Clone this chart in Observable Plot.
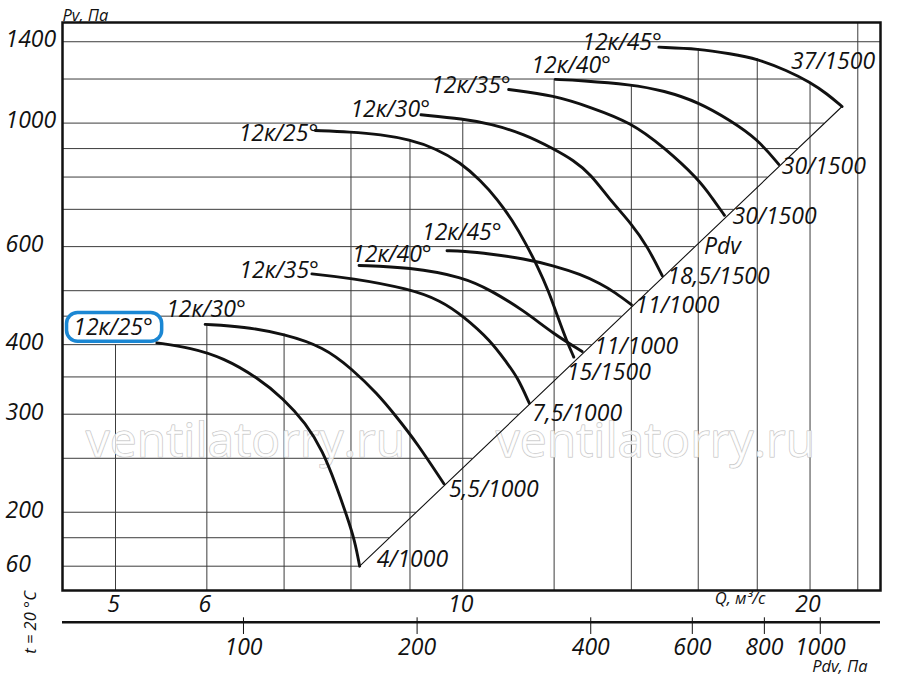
<!DOCTYPE html>
<html>
<head>
<meta charset="utf-8">
<script src="https://cdn.jsdelivr.net/npm/d3@7"></script>
<script src="https://cdn.jsdelivr.net/npm/@observablehq/plot@0.6"></script>
<style>
  html, body { margin: 0; padding: 0; background: #fff; }
  #chart svg { display: block; }
</style>
</head>
<body>
<div id="chart"></div>
<script>
// ---------- axis / grid data ----------
const yTickValues = [1400, 1000, 600, 400, 300, 200, 160];
const yTickLabels = ["1400", "1000", "600", "400", "300", "200", "60"];
const pGrid = [1400, 1200, 1000, 900, 800, 700, 600, 500, 450, 400, 350, 300, 250, 200, 180, 160];
const qTicks = [5, 6, 10, 20];
const qGrid = [5, 6, 7, 8, 9, 10, 12, 14, 16, 18, 20, 22];
const qGridTop = [400, 435, 418, 964, 934, 1010, 1198, 1173, 1360, 1305, 1184, null];
const pdvTicks = [100, 200, 400, 600, 800, 1000];
const pdvCoef = 2.4; // Pdv = 2.4 · Q²

// ---------- curve labels ----------
const bladeLabels = ["12к/25°", "12к/30°", "12к/35°", "12к/40°", "12к/45°"];
const motorLow = ["4/1000", "5,5/1000", "7,5/1000", "11/1000", "11/1000"];
const motorHigh = ["15/1500", "18,5/1500", "30/1500", "30/1500", "37/1500"];

// ---------- lower family (n = 1000) : Q m³/s, Pv Pa ----------
const low25Q = [5.43, 5.81, 6.20, 6.64, 6.99, 7.31, 7.56, 7.77, 7.94, 8.06, 8.14];
const low25P = [403, 395, 379, 349, 320, 289, 258, 223, 196, 178, 160];
const low30Q = [5.98, 6.46, 7.00, 7.58, 8.01, 8.43, 8.77, 9.13, 9.63];
const low30P = [435, 431, 418, 396, 362, 327, 296, 266, 225];
const low35Q = [7.40, 8.00, 8.99, 9.57, 10.01, 10.57, 10.93, 11.15, 11.42];
const low35P = [536, 527, 504, 480, 450, 407, 370, 350, 314];
const low40Q = [8.13, 8.99, 10.01, 10.57, 11.29, 11.99, 12.69];
const low40P = [555, 551, 529, 501, 461, 418, 389];
const low45Q = [9.69, 10.01, 10.57, 11.29, 12.01, 12.65, 13.16, 13.56, 14.00];
const low45P = [590, 589, 582, 571, 554, 535, 515, 496, 472];

// ---------- upper family (n = 1500) ----------
const high25Q = [7.45, 7.99, 8.49, 8.99, 9.47, 9.95, 10.36, 10.72, 11.04, 11.33, 11.61, 11.87, 12.08, 12.30, 12.48];
const high25P = [970, 964, 954, 934, 901, 850, 789, 729, 669, 610, 553, 499, 450, 407, 380];
const high30Q = [9.20, 10.01, 10.57, 11.29, 11.99, 12.48, 12.90, 13.43, 14.00, 14.46, 14.89];
const high30P = [1035, 1018, 997, 957, 899, 857, 811, 726, 660, 600, 532];
const high35Q = [10.96, 12.01, 12.90, 13.99, 14.94, 16.02, 16.46, 16.86];
const high35P = [1149, 1121, 1068, 1003, 905, 792, 732, 683];
const high40Q = [12.03, 12.65, 13.99, 14.94, 16.02, 17.06, 18.00, 18.79];
const high40P = [1198, 1193, 1173, 1144, 1090, 1011, 937, 843];
const high45Q = [14.79, 16.02, 17.06, 18.00, 19.10, 20.01, 20.69, 21.32];
const high45P = [1369, 1360, 1332, 1305, 1243, 1184, 1129, 1071];

// dynamic pressure line Pdv
const pdvLineQ = [8.14, 21.32];
const pdvLineP = [160, 1071];
const pdvLabelP = 600;

// ---------- scales / layout ----------
const xDomain = [4.498, 23.02];
const yDomain = [144.7, 1516];
const FONT = "'Open Sans', 'Noto Sans', sans-serif";
const BIG = 23, SMALL = 16.5;

const lowQ = [low25Q, low30Q, low35Q, low40Q, low45Q];
const lowP = [low25P, low30P, low35P, low40P, low45P];
const highQ = [high25Q, high30Q, high35Q, high40Q, high45Q];
const highP = [high25P, high30P, high35P, high40P, high45P];

const curves = [];
lowQ.forEach((qs, i) => qs.forEach((q, j) => curves.push({id: "L" + i, Q: q, P: lowP[i][j]})));
highQ.forEach((qs, i) => qs.forEach((q, j) => curves.push({id: "H" + i, Q: q, P: highP[i][j]})));
const pdvLine = pdvLineQ.map((q, i) => ({Q: q, P: pdvLineP[i]}));

function crossQ(qs, ps, p) {
  for (let i = 0; i < qs.length - 1; i++) {
    const a = ps[i], b = ps[i + 1];
    if ((a - p) * (b - p) <= 0 && a !== b) {
      const t = (Math.log(p) - Math.log(a)) / (Math.log(b) - Math.log(a));
      return Math.exp(Math.log(qs[i]) + t * (Math.log(qs[i + 1]) - Math.log(qs[i])));
    }
  }
  return null;
}
const hLines = pGrid.map(p => ({
  P: p,
  x2: crossQ(pdvLineQ, pdvLineP, p) ?? crossQ(high45Q, high45P, p) ?? xDomain[1]
}));
const vLines = qGrid.map((q, i) => ({Q: q, top: qGridTop[i] ?? yDomain[1]}));
const pdvQ = pdvTicks.map(p => Math.sqrt(p / pdvCoef));
const pdvFmt = new Map(pdvQ.map((q, i) => [q, String(pdvTicks[i])]));

// label layout (pixel offsets from curve start / end)
const startLow = [
  {a: "end", dx: -4, dy: -15}, {a: "start", dx: -39, dy: -15}, {a: "end", dx: 7, dy: -3},
  {a: "start", dx: -7, dy: -11}, {a: "start", dx: -25, dy: -18}];
const startHigh = [
  {a: "end", dx: 3, dy: 3}, {a: "end", dx: 9, dy: -5}, {a: "end", dx: 2, dy: -4},
  {a: "start", dx: -24, dy: -14}, {a: "end", dx: 3, dy: -5}];
const endLow = [
  {a: "start", dx: 17, dy: -7}, {a: "start", dx: 5, dy: 6}, {a: "start", dx: 3, dy: 10},
  {a: "start", dx: 12, dy: -5}, {a: "start", dx: 4, dy: 1}];
const endHigh = [
  {a: "start", dx: -7, dy: 16}, {a: "start", dx: 5, dy: 1}, {a: "start", dx: 8, dy: 1},
  {a: "start", dx: 3, dy: 2}, {a: "end", dx: 33, dy: -45}];

function labelMarks(Qs, Ps, texts, layouts, atEnd) {
  return texts.map((t, i) => {
    const j = atEnd ? Qs[i].length - 1 : 0;
    const L = layouts[i];
    return Plot.text([{Q: Qs[i][j], P: Ps[i][j], t}], {
      x: "Q", y: "P", text: "t", textAnchor: L.a, dx: L.dx, dy: L.dy,
      fontSize: BIG, fill: "#111"
    });
  });
}

// highlight box around the lower 12к/25° label
const highlight = {q1: 4.539, q2: 5.488, p1: 405, p2: 456};

const chart = Plot.plot({
  width: 900,
  height: 681,
  marginTop: 22,
  marginBottom: 91,
  marginLeft: 62,
  marginRight: 20,
  style: {fontFamily: FONT, fontStyle: "italic", background: "#fff", overflow: "visible", color: "#111"},
  x: {type: "log", domain: xDomain, axis: null},
  y: {type: "log", domain: yDomain, axis: null},
  marks: [
    // grid
    Plot.ruleY(hLines, {y: "P", x1: xDomain[0], x2: "x2", stroke: "#3c3c3c", strokeWidth: 1}),
    Plot.ruleX(vLines, {x: "Q", y1: yDomain[0], y2: "top", stroke: "#3c3c3c", strokeWidth: 1}),
    // watermark
    Plot.text(["ventilatorry.ru"], {frameAnchor: "top-left", dx: 183, dy: 400, fontSize: 48,
      fontStyle: "normal", fill: "#fff", fillOpacity: 0.75, stroke: "#bdbdbd", strokeWidth: 1, textAnchor: "middle"}),
    Plot.text(["ventilatorry.ru"], {frameAnchor: "top-left", dx: 593, dy: 400, fontSize: 48,
      fontStyle: "normal", fill: "#fff", fillOpacity: 0.75, stroke: "#bdbdbd", strokeWidth: 1, textAnchor: "middle"}),
    // highlight box
    Plot.rect([highlight], {x1: "q1", x2: "q2", y1: "p1", y2: "p2", rx: 11,
      fill: "#fff", stroke: "#1b87d3", strokeWidth: 3.5}),
    // Pdv line
    Plot.line(pdvLine, {x: "Q", y: "P", stroke: "#111", strokeWidth: 1.1}),
    // fan curves
    Plot.line(curves, {x: "Q", y: "P", z: "id", stroke: "#111", strokeWidth: 2.9, curve: "basis"}),
    // frame
    Plot.frame({stroke: "#111", strokeWidth: 2.5}),
    // y labels
    Plot.text(yTickValues.map((v, i) => ({v, l: yTickLabels[i]})), {
      y: "v", text: "l", frameAnchor: "left", textAnchor: "start", dx: -57, dy: -2, fontSize: BIG, fill: "#111"}),
    Plot.text(["Pv, Па"], {frameAnchor: "top-left", textAnchor: "start", dx: 0, dy: -13, fontSize: SMALL, fill: "#111"}),
    // Q labels
    Plot.text(qTicks, {x: d => d, text: d => String(d), frameAnchor: "bottom", lineAnchor: "top",
      dx: -2, dy: 5, fontSize: BIG, fill: "#111"}),
    Plot.text(["Q, м³/с"], {frameAnchor: "bottom-right", textAnchor: "end", dx: -115, dy: 13, fontSize: SMALL, fill: "#111"}),
    // Pdv axis
    Plot.ruleY([yDomain[0]], {dy: 31.7, stroke: "#111", strokeWidth: 2.5}),
    Plot.axisX(pdvQ, {anchor: "bottom", dy: 27.3, tickSize: 16.7, tickPadding: 4,
      tickFormat: q => pdvFmt.get(q), fontSize: BIG, stroke: "#111", fill: "#111", strokeWidth: 1}),
    Plot.text(["Pdv, Па"], {frameAnchor: "bottom-right", textAnchor: "end", dx: -13, dy: 81, fontSize: SMALL, fill: "#111"}),
    Plot.text(["t = 20 °C"], {frameAnchor: "bottom-left", rotate: -90, textAnchor: "middle", dx: -27, dy: 32, fontSize: SMALL, fill: "#111"}),
    // curve labels
    ...labelMarks(lowQ, lowP, bladeLabels, startLow, false),
    ...labelMarks(highQ, highP, bladeLabels, startHigh, false),
    ...labelMarks(lowQ, lowP, motorLow, endLow, true),
    ...labelMarks(highQ, highP, motorHigh, endHigh, true),
    Plot.text([{Q: crossQ(pdvLineQ, pdvLineP, pdvLabelP), P: pdvLabelP}], {x: "Q", y: "P", text: () => "Pdv",
      textAnchor: "start", dx: 9, dy: 0, fontSize: BIG, fill: "#111"})
  ]
});
document.getElementById("chart").appendChild(chart);
</script>
</body>
</html>
